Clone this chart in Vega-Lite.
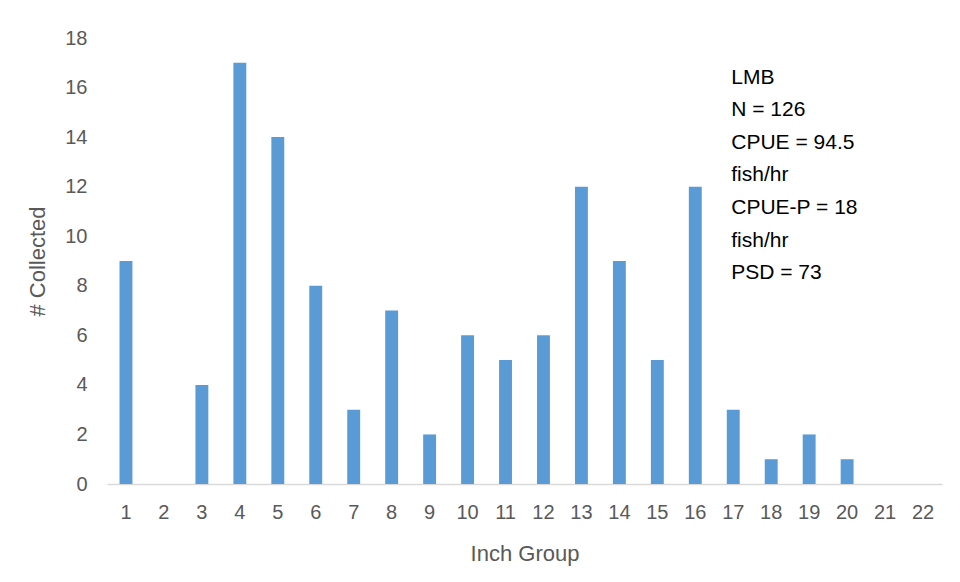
{
  "$schema": "https://vega.github.io/schema/vega-lite/v6.json",
  "width": 835,
  "height": 446,
  "autosize": "none",
  "padding": {"left": 107, "top": 38, "right": 18, "bottom": 98},
  "background": "white",
  "config": {
    "view": {"stroke": null},
    "font": "Liberation Sans"
  },
  "datasets": {
    "bars": [
      {"group": "1", "count": 9}, {"group": "2", "count": 0}, {"group": "3", "count": 4},
      {"group": "4", "count": 17}, {"group": "5", "count": 14}, {"group": "6", "count": 8},
      {"group": "7", "count": 3}, {"group": "8", "count": 7}, {"group": "9", "count": 2},
      {"group": "10", "count": 6}, {"group": "11", "count": 5}, {"group": "12", "count": 6},
      {"group": "13", "count": 12}, {"group": "14", "count": 9}, {"group": "15", "count": 5},
      {"group": "16", "count": 12}, {"group": "17", "count": 3}, {"group": "18", "count": 1},
      {"group": "19", "count": 2}, {"group": "20", "count": 1}, {"group": "21", "count": 0},
      {"group": "22", "count": 0}
    ],
    "note": [
      {"label": ["LMB", "N = 126", "CPUE = 94.5", "fish/hr", "CPUE-P = 18", "fish/hr", "PSD = 73"]}
    ]
  },
  "layer": [
    {
      "data": {"name": "bars"},
      "mark": {"type": "bar", "color": "#5B9BD5"},
      "encoding": {
        "x": {
          "field": "group", "type": "ordinal", "sort": null,
          "scale": {"paddingInner": 0.66, "paddingOuter": 0.33},
          "axis": {
            "title": "Inch Group", "labelAngle": 0, "ticks": false,
            "domainColor": "#d9d9d9", "domainWidth": 1.3,
            "labelColor": "#595959", "labelFontSize": 20, "labelPadding": 18,
            "titleColor": "#595959", "titleFontSize": 22, "titleFontWeight": "normal",
            "titleY": 69, "titleBaseline": "middle"
          }
        },
        "y": {
          "field": "count", "type": "quantitative",
          "scale": {"domain": [0, 18]},
          "axis": {
            "title": "# Collected", "values": [0, 2, 4, 6, 8, 10, 12, 14, 16, 18],
            "grid": false, "domain": false, "ticks": false,
            "labelColor": "#595959", "labelFontSize": 20, "labelPadding": 20,
            "titleColor": "#595959", "titleFontSize": 22, "titleFontWeight": "normal",
            "titleX": -70, "titleBaseline": "middle"
          }
        }
      }
    },
    {
      "data": {"name": "note"},
      "mark": {"type": "text", "align": "left", "baseline": "middle", "fontSize": 21, "lineHeight": 32.6, "color": "#000000", "dx": -2},
      "encoding": {
        "x": {"datum": "17"},
        "y": {"datum": 16.4},
        "text": {"field": "label"}
      }
    }
  ]
}
